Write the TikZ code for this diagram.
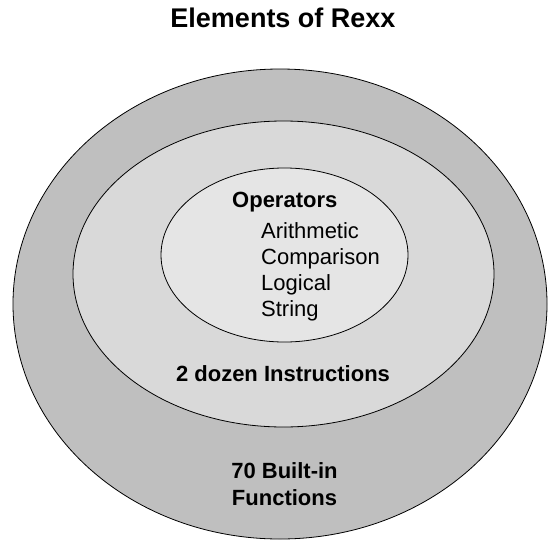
\documentclass[tikz,border=0pt]{standalone}
\usepackage{fontspec}
\setmainfont{Liberation Sans}
\definecolor{ringout}{gray}{0.75}
\definecolor{ringmid}{gray}{0.85}
\definecolor{ringin}{gray}{0.90}
\tikzset{
  ring/.style={draw=black, line width=0.8pt},
  title/.style={font=\fontsize{27}{32}\selectfont\bfseries, anchor=base},
  head/.style={font=\fontsize{22}{26}\selectfont\bfseries, anchor=base, inner sep=0pt},
  item/.style={font=\fontsize{22}{26}\selectfont, anchor=base west, inner sep=0pt}
}
\begin{document}
\begin{tikzpicture}[x=1pt,y=-1pt]
  \useasboundingbox (0,0) rectangle (548,543);
  % Ringe
  \draw[ring, fill=ringout] (280,304) ellipse (267pt and 235pt);
  \draw[ring, fill=ringmid] (283.5,274) ellipse (210.5pt and 153pt);
  \draw[ring, fill=ringin] (284.5,255) ellipse (123.5pt and 87pt);
  % Texte
  \node[title] (titel) at (283,28) {Elements of Rexx};
  \node[head, anchor=base west] (ops) at (232,207) {Operators};
  \foreach \t [count=\i] in {Arithmetic,Comparison,Logical,String}
    \node[item] (op\i) at (261,{238+26*(\i-1)}) {\t};
  \node[head] (instr) at (283,381) {2 dozen Instructions};
  \node[head] (fn1) at (284.5,478) {70 Built-in};
  \node[head] (fn2) at (284.5,505) {Functions};
\end{tikzpicture}
\end{document}
